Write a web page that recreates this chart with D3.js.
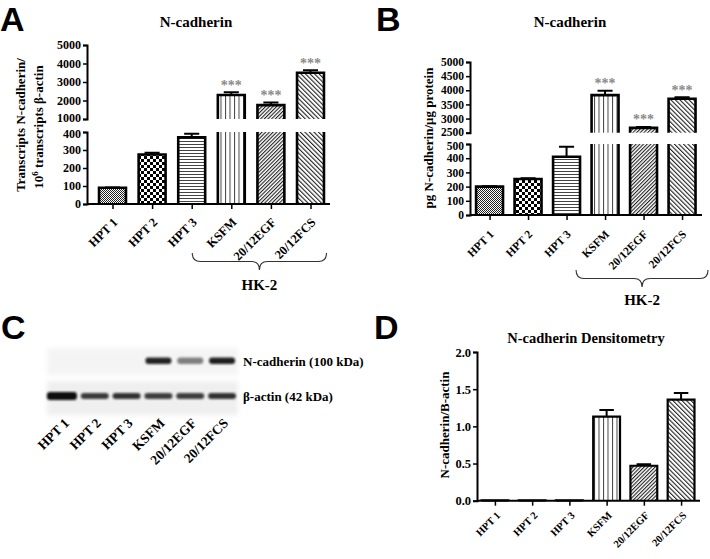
<!DOCTYPE html>
<html><head><meta charset="utf-8">
<script src="https://cdn.jsdelivr.net/npm/d3@7"></script>
<style>
body{margin:0;background:#fff}
svg text{font-family:"Liberation Serif","Times New Roman",serif;font-weight:bold;fill:#000}
svg text.letter{font-family:"Liberation Sans",Arial,sans-serif;font-size:34px}
</style></head><body>
<svg id="c" width="710" height="559"></svg>
<script>
// ---------- data ----------
const categories = ["HPT 1","HPT 2","HPT 3","KSFM","20/12EGF","20/12FCS"];
const patterns = ["dots","checker","hlines","vlines","diagUp","diagDown"];
const significant = [false,false,false,true,true,true];
const hk2Group = ["KSFM","20/12EGF","20/12FCS"];
// A: transcripts per 10^6 beta-actin
const mrnaValues = [90, 275, 370, 2300, 1750, 3500];
const mrnaErrors = [2, 10, 20, 150, 140, 130];
const mrnaLowTicks = [0,100,200,300,400];
const mrnaUpTicks = [1000,2000,3000,4000,5000];
// B: pg N-cadherin / ug protein
const proteinValues = [200, 253, 410, 3830, 2670, 3700];
const proteinErrors = [3, 6, 70, 150, 35, 50];
const proteinLowTicks = [0,100,200,300,400,500];
const proteinUpTicks = [2500,3000,3500,4000,4500,5000];
// C: western blot band intensities
const ncadBand = [0, 0, 0, 0.9, 0.5, 0.92];
const actinBand = [1, 0.8, 0.84, 0.78, 0.78, 0.84];
// D: densitometry
const densValues = [0.005, 0.005, 0.005, 1.13, 0.47, 1.36];
const densErrors = [0, 0, 0, 0.09, 0.02, 0.09];
const densTicks = [0, 0.5, 1.0, 1.5, 2.0];

// ---------- setup ----------
const svg = d3.select("#c");
const defs = svg.append("defs");
function pat(id, w, h, draw, transform) {
  const p = defs.append("pattern").attr("id", id).attr("patternUnits","userSpaceOnUse")
    .attr("width", w).attr("height", h);
  if (transform) p.attr("patternTransform", transform);
  p.append("rect").attr("width", w).attr("height", h).attr("fill", "#fff");
  draw(p);
}
pat("dots",2,2,p=>{p.append("rect").attr("width",1).attr("height",1).attr("fill","#222");
  p.append("rect").attr("x",1).attr("y",1).attr("width",1).attr("height",1).attr("fill","#222");});
pat("checker",6,6,p=>{p.append("rect").attr("width",3).attr("height",3).attr("fill","#000");
  p.append("rect").attr("x",3).attr("y",3).attr("width",3).attr("height",3).attr("fill","#000");});
pat("hlines",3,3,p=>p.append("rect").attr("width",3).attr("height",1).attr("fill","#444"));
pat("vlines",4.5,4,p=>p.append("rect").attr("width",1).attr("height",4).attr("fill","#444"));
pat("diagUp",2.6,4,p=>p.append("rect").attr("width",1.1).attr("height",4).attr("fill","#222"),"rotate(45)");
pat("diagDown",3.2,4,p=>p.append("rect").attr("width",1.1).attr("height",4).attr("fill","#222"),"rotate(-45)");
const blur = defs.append("filter").attr("id","blur").attr("x","-20%").attr("y","-50%").attr("width","140%").attr("height","200%");
blur.append("feGaussianBlur").attr("stdDeviation",1.3);
const blur2 = defs.append("filter").attr("id","blur2").attr("x","-10%").attr("y","-30%").attr("width","120%").attr("height","160%");
blur2.append("feGaussianBlur").attr("stdDeviation",2.5);

function styleAxis(g, fs) {
  g.attr("font-family", null).attr("font-size", null);
  g.select(".domain").attr("stroke-width", 2);
  g.selectAll(".tick line").attr("stroke-width", 1.5);
  g.selectAll("text").style("font-size", fs + "px");
}

function brace(g, x0, x1, y0, h) {
  const xm = (x0 + x1) / 2, r = 8, ym = y0 + h / 2;
  const d = `M${x0},${y0} Q${x0},${ym} ${x0+r},${ym} L${xm-r},${ym} Q${xm},${ym} ${xm},${y0+h}`+
            ` Q${xm},${ym} ${xm+r},${ym} L${x1-r},${ym} Q${x1},${ym} ${x1},${y0}`;
  g.append("path").attr("d", d).attr("fill","none").attr("stroke","#333").attr("stroke-width",1.1);
}

function drawBar(g, cx, bw, yTop, yBot, closeTop) {
  g.append("rect").attr("x", cx - bw/2).attr("y", yTop).attr("width", bw).attr("height", Math.max(0, yBot - yTop));
  const x0 = cx - bw/2, x1 = cx + bw/2;
  return closeTop ? `M${x0},${yBot} V${yTop} H${x1} V${yBot}` : `M${x0},${yBot} V${yTop} M${x1},${yTop} V${yBot}`;
}

function errBar(g, cx, yTop, yCap, hw, sw) {
  g.append("path").attr("d", `M${cx},${yTop} V${yCap} M${cx-hw},${yCap} H${cx+hw}`)
    .attr("stroke","#000").attr("stroke-width", sw).attr("fill","none");
}

function brokenPanel(cfg) {
  const g = svg.append("g");
  const x = d3.scalePoint().domain(categories).range([cfg.x0, cfg.x1]).padding(0.5);
  const bw = x.step() * cfg.bwFrac;
  const yLow = d3.scaleLinear().domain([0, cfg.lowMax]).range([cfg.baseY, cfg.lowTop]);
  const yUp = d3.scaleLinear().domain([cfg.upMin, cfg.upMax]).range([cfg.upBottom, cfg.upTop]);
  cfg.values.forEach((v, i) => {
    const cx = x(categories[i]);
    const bg = g.append("g").attr("fill", `url(#${patterns[i]})`);
    let capY;
    if (v <= cfg.lowMax) {
      const yt = yLow(v);
      const d = drawBar(bg, cx, bw, yt, cfg.baseY, true);
      bg.append("path").attr("d", d).attr("fill","none").attr("stroke","#000").attr("stroke-width",2.6);
      capY = yLow(v + cfg.errors[i]);
      errBar(g, cx, yt, capY, bw*0.28, 2);
    } else {
      const d1 = drawBar(bg, cx, bw, cfg.lowTop, cfg.baseY, false);
      const yt = yUp(v);
      const d2 = drawBar(bg, cx, bw, yt, cfg.upBottom, true);
      bg.append("path").attr("d", d1 + " " + d2).attr("fill","none").attr("stroke","#000").attr("stroke-width",2.6);
      capY = yUp(v + cfg.errors[i]);
      errBar(g, cx, yt, capY, bw*0.28, 2);
    }
    if (significant[i]) {
      g.append("text").attr("x", cx).attr("y", capY - 2.5).attr("text-anchor","middle")
        .style("font-size","14px").style("fill","#8a8a8a").text("***");
    }
  });
  // axes
  const aL = g.append("g").attr("transform", `translate(${cfg.axisX},0)`)
    .call(d3.axisLeft(yLow).tickValues(cfg.lowTicks).tickFormat(d3.format("d")).tickSize(4).tickSizeOuter(4).tickPadding(2));
  styleAxis(aL, cfg.tickFs);
  aL.selectAll(".tick text").filter(d => d === cfg.lowMax).attr("dy", "0.45em");
  const aU = g.append("g").attr("transform", `translate(${cfg.axisX},0)`)
    .call(d3.axisLeft(yUp).tickValues(cfg.upTicks).tickFormat(d3.format("d")).tickSize(4).tickSizeOuter(4).tickPadding(2));
  styleAxis(aU, cfg.tickFs);
  aU.selectAll(".tick text").filter(d => d === cfg.upMin).attr("dy", "0.22em");
  const aX = g.append("g").attr("transform", `translate(0,${cfg.baseY})`)
    .call(d3.axisBottom(x).tickSize(5).tickFormat(""));
  aX.select(".domain").remove();
  aX.selectAll(".tick line").attr("stroke-width", 1.5);
  g.append("line").attr("x1", cfg.axisX).attr("x2", cfg.xEnd).attr("y1", cfg.baseY).attr("y2", cfg.baseY)
    .attr("stroke","#000").attr("stroke-width",2);
  categories.forEach(c => {
    g.append("text").attr("text-anchor","end")
      .attr("transform", `translate(${x(c)+cfg.lblDx},${cfg.baseY+cfg.lblDy}) rotate(-45)`)
      .style("font-size", cfg.lblFs + "px").text(c);
  });
  // brace + HK-2
  const bx0 = x(hk2Group[0]) - cfg.braceL, bx1 = x(hk2Group[2]) + cfg.braceR;
  brace(g, bx0, bx1, cfg.braceY, 17);
  g.append("text").attr("x", (bx0+bx1)/2).attr("y", cfg.hkY).attr("text-anchor","middle").style("font-size","15px").text("HK-2");
  // title
  g.append("text").attr("x", cfg.titleX).attr("y", 27).attr("text-anchor","middle").style("font-size","15px").text("N-cadherin");
  return g;
}

// Panel A
const gA = brokenPanel({x0:92.7, x1:330.3, bwFrac:0.68, axisX:87, xEnd:330, baseY:204, lowTop:132, upBottom:119, upTop:45,
  lowMax:400, upMin:1000, upMax:5000, values:mrnaValues, errors:mrnaErrors, lowTicks:mrnaLowTicks, upTicks:mrnaUpTicks,
  tickFs:12, lblFs:12.5, lblDx:6, lblDy:19, braceL:39, braceR:16, braceY:253, hkY:290, titleX:196});
gA.append("text").attr("transform","translate(25,125) rotate(-90)").attr("text-anchor","middle").style("font-size","13px")
  .text("Transcripts N-cadherin/");
const l2 = gA.append("text").attr("transform","translate(43,127) rotate(-90)").attr("text-anchor","middle").style("font-size","13px");
l2.append("tspan").text("10");
l2.append("tspan").attr("dy",-5).style("font-size","9px").text("6");
l2.append("tspan").attr("dy",5).text(" transcripts β-actin");

// Panel B
const gB = brokenPanel({x0:470.3, x1:701.3, bwFrac:0.7, axisX:470, xEnd:702, baseY:215, lowTop:144, upBottom:132.7, upTop:62,
  lowMax:500, upMin:2500, upMax:5000, values:proteinValues, errors:proteinErrors, lowTicks:proteinLowTicks, upTicks:proteinUpTicks,
  tickFs:11.5, lblFs:11.5, lblDx:5, lblDy:20, braceL:29, braceR:26, braceY:270, hkY:305, titleX:570});
gB.append("text").attr("transform","translate(433,138) rotate(-90)").attr("text-anchor","middle").style("font-size","13px")
  .text("pg N-cadherin/μg protein");

// Panel C : western blot
const gC = svg.append("g");
const lane = d3.scalePoint().domain(categories).range([47, 238]).padding(0.5);
gC.append("rect").attr("x",47).attr("y",348).attr("width",191).attr("height",27).attr("fill","#f4f4f4").attr("filter","url(#blur2)");
gC.append("rect").attr("x",47).attr("y",381).attr("width",191).attr("height",34).attr("fill","#efefef").attr("filter","url(#blur2)");
categories.forEach((c, i) => {
  if (ncadBand[i] > 0) {
    gC.append("rect").attr("x", lane(c)-13).attr("y", 357.5).attr("width", 26).attr("height", 6.5).attr("rx",3)
      .attr("fill","#111").attr("opacity", ncadBand[i]).attr("filter","url(#blur)");
  }
  gC.append("rect").attr("x", lane(c)-14 - (i===0?2:0)).attr("y", 393 - (i===0?1:0)).attr("width", 28 + (i===0?2:0)).attr("height", 6 + (i===0?2:0)).attr("rx",3)
    .attr("fill","#111").attr("opacity", actinBand[i]).attr("filter","url(#blur)");
  gC.append("text").attr("text-anchor","end")
    .attr("transform", `translate(${lane(c)+7},${424}) rotate(-45)`)
    .style("font-size","13.5px").text(c);
});
gC.append("text").attr("x",243).attr("y",366).style("font-size","13px").text("N-cadherin (100 kDa)");
gC.append("text").attr("x",243).attr("y",401).style("font-size","13px").text("β-actin (42 kDa)");

// Panel D
const gD = svg.append("g");
const xD = d3.scalePoint().domain(categories).range([476.3, 699.7]).padding(0.5);
const bwD = xD.step() * 0.72;
const yD = d3.scaleLinear().domain([0, 2]).range([500.7, 352]);
densValues.forEach((v, i) => {
  const cx = xD(categories[i]);
  const bg = gD.append("g").attr("fill", `url(#${patterns[i]})`);
  const yt = yD(v);
  const d = drawBar(bg, cx, bwD, yt, yD(0), true);
  bg.append("path").attr("d", d).attr("fill","none").attr("stroke","#000").attr("stroke-width",2.2);
  if (densErrors[i] > 0) errBar(gD, cx, yt, yD(v + densErrors[i]), bwD*0.27, 2);
});
const aDY = gD.append("g").attr("transform","translate(477,0)")
  .call(d3.axisLeft(yD).tickValues(densTicks).tickFormat(d3.format(".1f")).tickSize(4).tickSizeOuter(4).tickPadding(2));
styleAxis(aDY, 12.5);
const aDX = gD.append("g").attr("transform","translate(0,500.7)").call(d3.axisBottom(xD).tickSize(5).tickFormat(""));
aDX.select(".domain").remove();
aDX.selectAll(".tick line").attr("stroke-width",1.5);
gD.append("line").attr("x1",477).attr("x2",700).attr("y1",500.7).attr("y2",500.7).attr("stroke","#000").attr("stroke-width",2);
categories.forEach(c => {
  gD.append("text").attr("text-anchor","end")
    .attr("transform", `translate(${xD(c)+6},${516}) rotate(-45)`)
    .style("font-size","10.5px").text(c);
});
gD.append("text").attr("x",586).attr("y",343).attr("text-anchor","middle").style("font-size","14.5px").text("N-cadherin Densitometry");
gD.append("text").attr("transform","translate(449,425) rotate(-90)").attr("text-anchor","middle").style("font-size","13px").text("N-cadherin/B-actin");

// panel letters
svg.append("text").attr("class","letter").attr("x",0).attr("y",31).text("A");
svg.append("text").attr("class","letter").attr("x",376).attr("y",31).text("B");
svg.append("text").attr("class","letter").attr("x",1).attr("y",339).text("C");
svg.append("text").attr("class","letter").attr("x",374).attr("y",339).text("D");
</script>
</body></html>
